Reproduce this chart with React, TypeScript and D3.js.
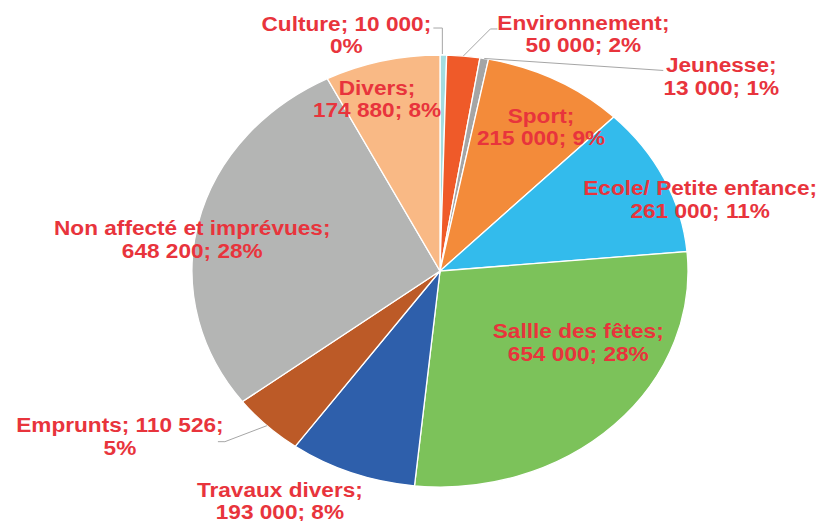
import React from "react";
import * as d3 from "d3";

const categories = [
  "Culture",
  "Environnement",
  "Jeunesse",
  "Sport",
  "Ecole/ Petite enfance",
  "Sallle des fêtes",
  "Travaux divers",
  "Emprunts",
  "Non affecté et imprévues",
  "Divers",
];
const values = [10000, 50000, 13000, 215000, 261000, 654000, 193000, 110526, 648200, 174880];

// styling / layout (not data)
const colors = [
  "#A3DCE0",
  "#EF5A29",
  "#A5A5A5",
  "#F38B3A",
  "#33BBEC",
  "#7CC25A",
  "#2E5FAB",
  "#BC5A27",
  "#B4B5B4",
  "#F9B985",
];
// label offsets from the slice's outer-edge midpoint
const labelOffsets: [number, number][] = [
  [-97, -20],
  [120, -22],
  [237, 18],
  [-15, 47],
  [36, 21],
  [-36, -82],
  [-72, 28],
  [-147, 11],
  [-6, 17],
  [-5, 38],
];
// where the first line breaks: after name or after value
const breakAfterValue = [true, false, false, false, false, false, false, true, false, false];
// leader lines: [endX offset, endY offset, elbow length] relative to label center; null = none
const leaders: ([number, number, number] | null)[] = [
  [87, -7, 0],
  [-93, -5, 7],
  [-58, -6, 0],
  null,
  null,
  null,
  null,
  [105, 5, -7],
  null,
  null,
];

const W = 821;
const H = 521;
const cx = 440;
const cy = 271;
const ry = 216;
const rx = 248;
const fontSize = 19.5;
const textStretch = 1.16;
const lineGap = 22.5;

const locale = d3.formatLocale({
  decimal: ",",
  thousands: "\u00a0",
  grouping: [3],
  currency: ["", " €"],
});
const fmtNum = locale.format(",d");

export default function App() {
  const total = d3.sum(values);
  const pie = d3
    .pie<number>()
    .sort(null)
    .value((d) => d)
    .startAngle(0)
    .endAngle(2 * Math.PI);
  const arcs = pie(values);
  const arc = d3.arc<d3.PieArcDatum<number>>().innerRadius(0).outerRadius(ry);

  const edgePoint = (a: d3.PieArcDatum<number>) => {
    const m = (a.startAngle + a.endAngle) / 2;
    return [cx + rx * Math.sin(m), cy - ry * Math.cos(m)];
  };

  return (
    <svg
      width={W}
      height={H}
      style={{ position: "absolute", left: 0, top: 0, background: "#fff" }}
    >
      <g transform={`translate(${cx},${cy}) scale(${rx / ry},1)`}>
        {arcs.map((a, i) => (
          <path
            key={i}
            d={arc(a) || ""}
            fill={colors[i]}
            stroke="#fff"
            strokeWidth={1.3}
            vectorEffect="non-scaling-stroke"
          />
        ))}
      </g>
      {arcs.map((a, i) => {
        const [ex, ey] = edgePoint(a);
        const lx = ex + labelOffsets[i][0];
        const ly = ey + labelOffsets[i][1];
        const L = leaders[i];
        if (!L) return null;
        const endX = lx + L[0];
        const endY = ly + L[1];
        const pts: [number, number][] = [];
        if (i === 0) {
          pts.push([ex - 1, ey - 1], [ex - 1, endY], [endX, endY]);
        } else {
          pts.push([ex, ey], [endX, endY], [endX + L[2], endY]);
        }
        return (
          <path
            key={"l" + i}
            d={d3.line()(pts) || ""}
            fill="none"
            stroke="#A6A6A6"
            strokeWidth={1}
          />
        );
      })}
      {arcs.map((a, i) => {
        const [ex, ey] = edgePoint(a);
        const lx = ex + labelOffsets[i][0];
        const ly = ey + labelOffsets[i][1];
        const pct = Math.round((values[i] / total) * 100) + "%";
        const num = fmtNum(values[i]);
        const lines = breakAfterValue[i]
          ? [`${categories[i]}; ${num};`, pct]
          : [`${categories[i]};`, `${num}; ${pct}`];
        return (
          <g key={"t" + i} transform={`translate(${lx},${ly}) scale(${textStretch},1)`}>
            {lines.map((t, j) => (
              <text
                key={j}
                x={0}
                y={(j - (lines.length - 1) / 2) * lineGap}
                textAnchor="middle"
                dominantBaseline="central"
                fontFamily="'Liberation Sans', Arial, sans-serif"
                fontWeight="bold"
                fontSize={fontSize}
                fill="#E8343C"
              >
                {t}
              </text>
            ))}
          </g>
        );
      })}
    </svg>
  );
}
